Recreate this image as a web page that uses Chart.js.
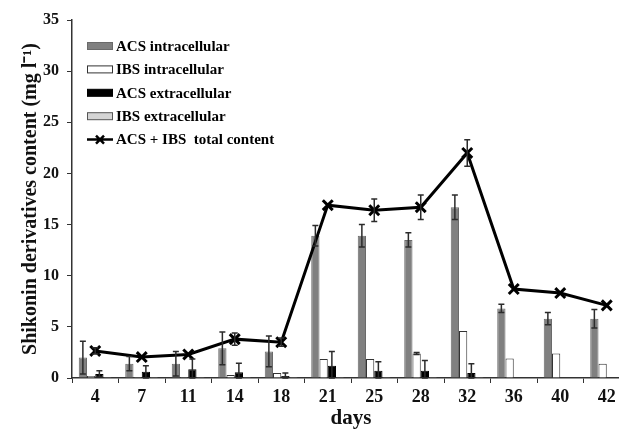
<!DOCTYPE html>
<html>
<head>
<meta charset="utf-8">
<script src="https://cdn.jsdelivr.net/npm/chart.js@4/dist/chart.umd.min.js"></script>
<style>
  html, body { margin: 0; padding: 0; background: #fff; overflow: hidden; }
  #wrap { width: 640px; height: 431px; }
</style>
</head>
<body>
<div id="wrap"><canvas id="myChart"></canvas></div>
<script>
// days of culture
var days = ["4", "7", "11", "14", "18", "21", "25", "28", "32", "36", "40", "42"];

// shikonin derivatives, mg/l
var acsIntra    = [2.0, 1.4, 1.4, 2.9, 2.6, 13.9, 13.9, 13.5, 16.7, 6.8, 5.8, 5.8];
var acsIntraErr = [1.6, 0.7, 1.2, 1.6, 1.5, 1.0, 1.1, 0.7, 1.2, 0.4, 0.6, 0.9];
var ibsIntra    = [0.2, 0.1, 0.1, 0.3, 0.5, 1.85, 1.85, 2.4, 4.6, 1.9, 2.4, 1.4];
var ibsIntraErr = [0, 0, 0, 0, 0, 0, 0, 0.1, 0, 0, 0, 0];
var acsExtra    = [0.4, 0.6, 0.85, 0.55, 0.2, 1.2, 0.7, 0.7, 0.5, 0, 0, 0];
var acsExtraErr = [0.3, 0.6, 1.0, 0.9, 0.3, 1.4, 0.9, 1.0, 0.9, 0, 0, 0];
var ibsExtra    = [0.1, 0.1, 0.1, 0.1, 0.1, 0.1, 0.1, 0.1, 0.1, 0, 0, 0];
var total       = [2.65, 2.05, 2.3, 3.8, 3.5, 16.9, 16.4, 16.7, 22.0, 8.7, 8.3, 7.1];
var totalErr    = [0.3, 0, 0, 0.6, 0.4, 0, 1.1, 1.2, 1.3, 0, 0, 0];

var yTicks = [0, 5, 10, 15, 20, 25, 30, 35];

var serif = "'Liberation Serif', 'Times New Roman', serif";

// draws the +/- whiskers on bars and line points
var errorBars = {
    id: 'errorBars',
    afterDatasetsDraw: function (chart) {
        var ctx = chart.ctx;
        var y = chart.scales.y;
        ctx.save();
        ctx.strokeStyle = '#2b2b2b';
        ctx.lineWidth = 1.5;
        chart.data.datasets.forEach(function (ds, i) {
            if (!ds.errors) return;
            var meta = chart.getDatasetMeta(i);
            meta.data.forEach(function (el, j) {
                var e = ds.errors[j];
                if (!e) return;
                var v = ds.data[j];
                var top = y.getPixelForValue(v + e);
                var bot = y.getPixelForValue(Math.max(0, v - e));
                ctx.beginPath();
                ctx.moveTo(el.x, top);
                ctx.lineTo(el.x, bot);
                ctx.moveTo(el.x - 3, top);
                ctx.lineTo(el.x + 3, top);
                ctx.moveTo(el.x - 3, bot);
                ctx.lineTo(el.x + 3, bot);
                ctx.stroke();
            });
        });
        ctx.restore();
    }
};

// legend sits inside the plot, top left
var insideLegend = {
    id: 'insideLegend',
    afterDraw: function (chart) {
        var ctx = chart.ctx;
        var x0 = chart.chartArea.left + 15;
        var y0 = chart.chartArea.top + 26;
        ctx.save();
        ctx.font = "bold 15px " + serif;
        ctx.textBaseline = 'middle';
        chart.data.datasets.forEach(function (ds, i) {
            var yy = y0 + i * 23.4;
            if (ds.type === 'line') {
                ctx.strokeStyle = '#000';
                ctx.lineWidth = 2.5;
                ctx.beginPath();
                ctx.moveTo(x0, yy);
                ctx.lineTo(x0 + 26, yy);
                ctx.moveTo(x0 + 9, yy - 4);
                ctx.lineTo(x0 + 17, yy + 4);
                ctx.moveTo(x0 + 9, yy + 4);
                ctx.lineTo(x0 + 17, yy - 4);
                ctx.stroke();
            } else {
                ctx.fillStyle = ds.backgroundColor;
                ctx.fillRect(x0, yy - 3.5, 26, 7);
                ctx.strokeStyle = ds.borderColor;
                ctx.lineWidth = 1;
                ctx.strokeRect(x0 + 0.5, yy - 3.5, 25, 7);
            }
            ctx.fillStyle = '#000';
            ctx.fillText(ds.label, x0 + 29, yy + 1);
        });
        ctx.restore();
    }
};

var ctx = document.getElementById("myChart").getContext("2d");

var myChart = new Chart(ctx, {
    data: {
        labels: days,
        datasets: [{
            type: 'bar',
            label: "ACS intracellular",
            data: acsIntra,
            errors: acsIntraErr,
            backgroundColor: '#808080',
            borderColor: '#6a6a6a',
            borderWidth: 1,
            order: 1
        }, {
            type: 'bar',
            label: "IBS intracellular",
            data: ibsIntra,
            errors: ibsIntraErr,
            backgroundColor: '#ffffff',
            borderColor: '#333333',
            borderWidth: 1,
            order: 1
        }, {
            type: 'bar',
            label: "ACS extracellular",
            data: acsExtra,
            errors: acsExtraErr,
            backgroundColor: '#000000',
            borderColor: '#000000',
            borderWidth: 1,
            order: 1
        }, {
            type: 'bar',
            label: "IBS extracellular",
            data: ibsExtra,
            backgroundColor: '#d4d4d4',
            borderColor: '#555555',
            borderWidth: 1,
            order: 1
        }, {
            type: 'line',
            label: "ACS + IBS  total content",
            data: total,
            errors: totalErr,
            borderColor: '#000',
            backgroundColor: '#000',
            borderWidth: 3,
            pointStyle: 'crossRot',
            pointRadius: 7,
            pointBorderWidth: 3,
            tension: 0,
            order: 0
        }]
    },
    options: {
        responsive: true,
        maintainAspectRatio: false,
        animation: false,
        layout: { padding: { top: 20, right: 8, left: 0, bottom: 0 } },
        datasets: {
            bar: { categoryPercentage: 0.71, barPercentage: 1.0 }
        },
        plugins: {
            legend: { display: false },
            tooltip: { enabled: false }
        },
        scales: {
            x: {
                offset: true,
                grid: {
                    offset: true,
                    drawOnChartArea: false,
                    drawTicks: true,
                    tickLength: 5,
                    color: '#333'
                },
                border: { color: '#333', width: 1.5 },
                ticks: {
                    color: '#111',
                    padding: 4,
                    maxRotation: 0,
                    font: { family: serif, size: 18, weight: 'bold' }
                },
                title: {
                    display: true,
                    text: 'days',
                    color: '#111',
                    padding: { top: 0, bottom: 0 },
                    font: { family: serif, size: 21, weight: 'bold' }
                },
                afterFit: function (scale) { scale.height = 53; }
            },
            y: {
                min: 0,
                max: 35,
                afterBuildTicks: function (scale) {
                    scale.ticks = yTicks.map(function (v) { return { value: v }; });
                },
                grid: {
                    drawOnChartArea: false,
                    drawTicks: true,
                    tickLength: 5,
                    color: '#333'
                },
                border: { color: '#333', width: 1.5 },
                ticks: {
                    color: '#111',
                    padding: 8,
                    font: { family: serif, size: 16, weight: 'bold' }
                },
                title: {
                    display: true,
                    text: 'Shikonin derivatives content (mg l\u207B\u00B9)',
                    color: '#111',
                    padding: { top: 19, bottom: 0 },
                    font: { family: serif, size: 20, weight: 'bold' }
                },
                afterFit: function (scale) { scale.width = 72; }
            }
        }
    },
    plugins: [errorBars, insideLegend]
});
</script>
</body>
</html>
